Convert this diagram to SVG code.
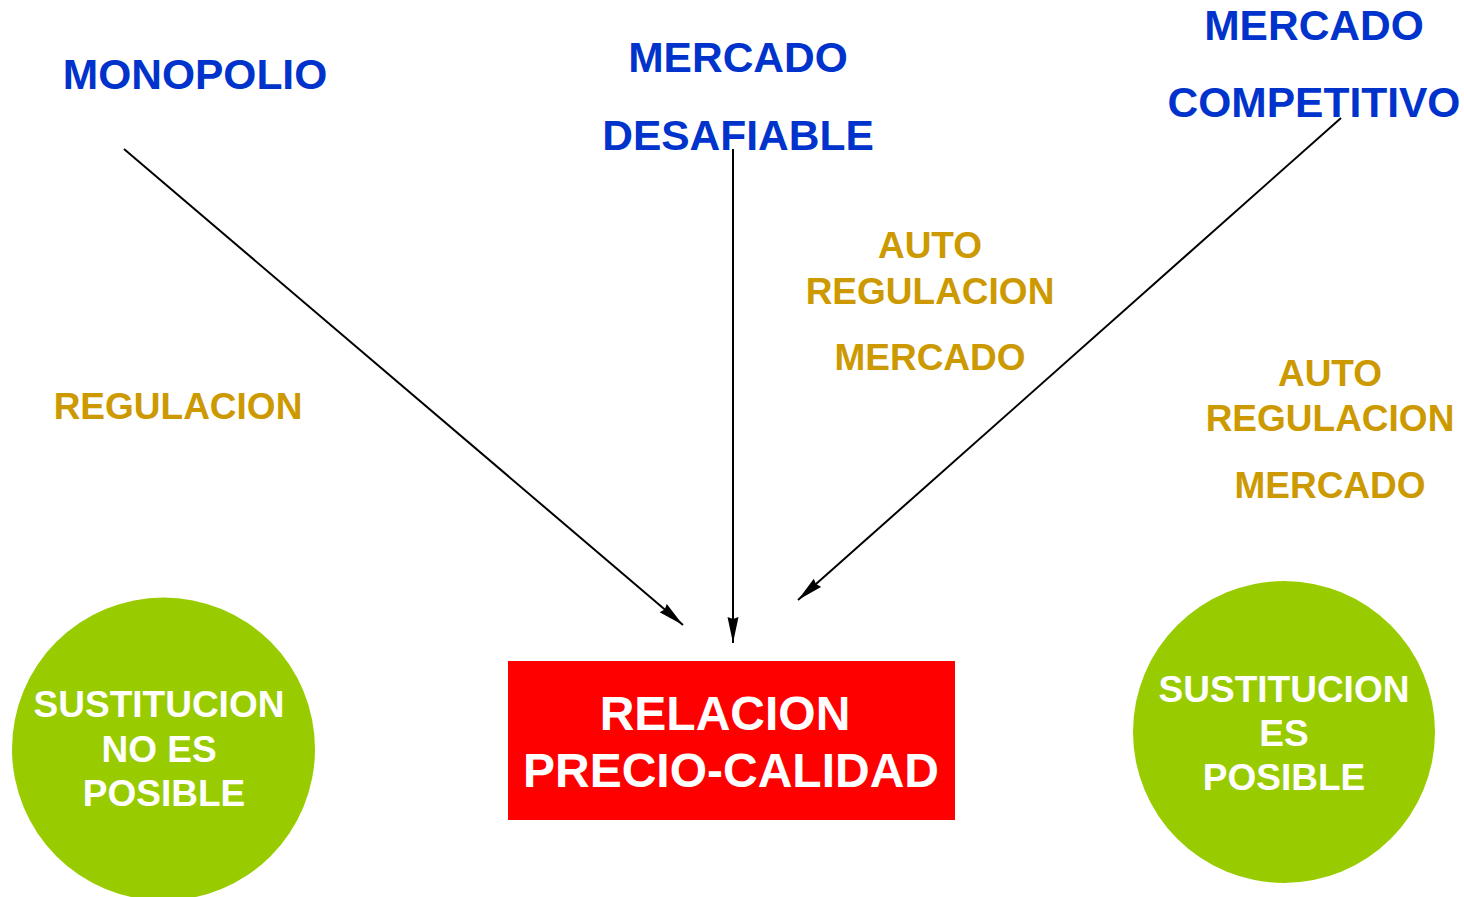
<svg xmlns="http://www.w3.org/2000/svg" width="1464" height="897" viewBox="0 0 1464 897">
<style>
.b{font-family:"Liberation Sans",Arial,sans-serif;font-weight:bold;fill:#0033cc;font-size:42.5px;text-anchor:middle}
.o{font-family:"Liberation Sans",Arial,sans-serif;font-weight:bold;fill:#cc9900;font-size:37px;text-anchor:middle}
.w{font-family:"Liberation Sans",Arial,sans-serif;font-weight:bold;fill:#ffffff;font-size:37px;text-anchor:middle}
.r{font-family:"Liberation Sans",Arial,sans-serif;font-weight:bold;fill:#ffffff;font-size:48px;text-anchor:middle}
.c{stroke:#000;stroke-width:2;fill:none;marker-end:url(#ah)}
</style>
<defs>
<marker id="ah" markerUnits="userSpaceOnUse" markerWidth="28" markerHeight="14" refX="26" refY="6" orient="auto">
<path d="M0,0.5 L26,6 L0,11.5 L2,6 Z" fill="#000"/>
</marker>
</defs>
<rect width="1464" height="897" fill="#fff"/>
<g id="monopolio"><text class="b" x="195" y="89">MONOPOLIO</text></g>
<g id="desafiable"><text class="b" x="738" y="72">MERCADO</text><text class="b" x="738" y="150">DESAFIABLE</text></g>
<g id="competitivo"><text class="b" x="1314" y="40">MERCADO</text><text class="b" x="1314" y="117">COMPETITIVO</text></g>
<g id="regulacion"><text class="o" x="178" y="419">REGULACION</text></g>
<g id="auto1"><text class="o" x="930" y="258">AUTO</text><text class="o" x="930" y="304">REGULACION</text><text class="o" x="930" y="370">MERCADO</text></g>
<g id="auto2"><text class="o" x="1330" y="386">AUTO</text><text class="o" x="1330" y="431">REGULACION</text><text class="o" x="1330" y="498">MERCADO</text></g>
<g id="no-posible"><circle cx="163.5" cy="749" r="151.5" fill="#99cc00"/><text class="w" x="159" y="717">SUSTITUCION</text><text class="w" x="159" y="762">NO ES</text><text class="w" x="164" y="806">POSIBLE</text></g>
<g id="posible"><circle cx="1284" cy="732" r="151" fill="#99cc00"/><text class="w" x="1284" y="702">SUSTITUCION</text><text class="w" x="1284" y="746">ES</text><text class="w" x="1284" y="790">POSIBLE</text></g>
<g id="relacion"><rect x="508" y="661" width="447" height="159" fill="#ff0000"/><text class="r" x="725" y="730">RELACION</text><text class="r" x="731" y="787">PRECIO-CALIDAD</text></g>
<g id="connectors">
<line class="c" x1="124" y1="149" x2="683" y2="625"/>
<line class="c" x1="733" y1="149" x2="733" y2="643"/>
<line class="c" x1="1341" y1="118" x2="798" y2="600"/>
</g>
</svg>
